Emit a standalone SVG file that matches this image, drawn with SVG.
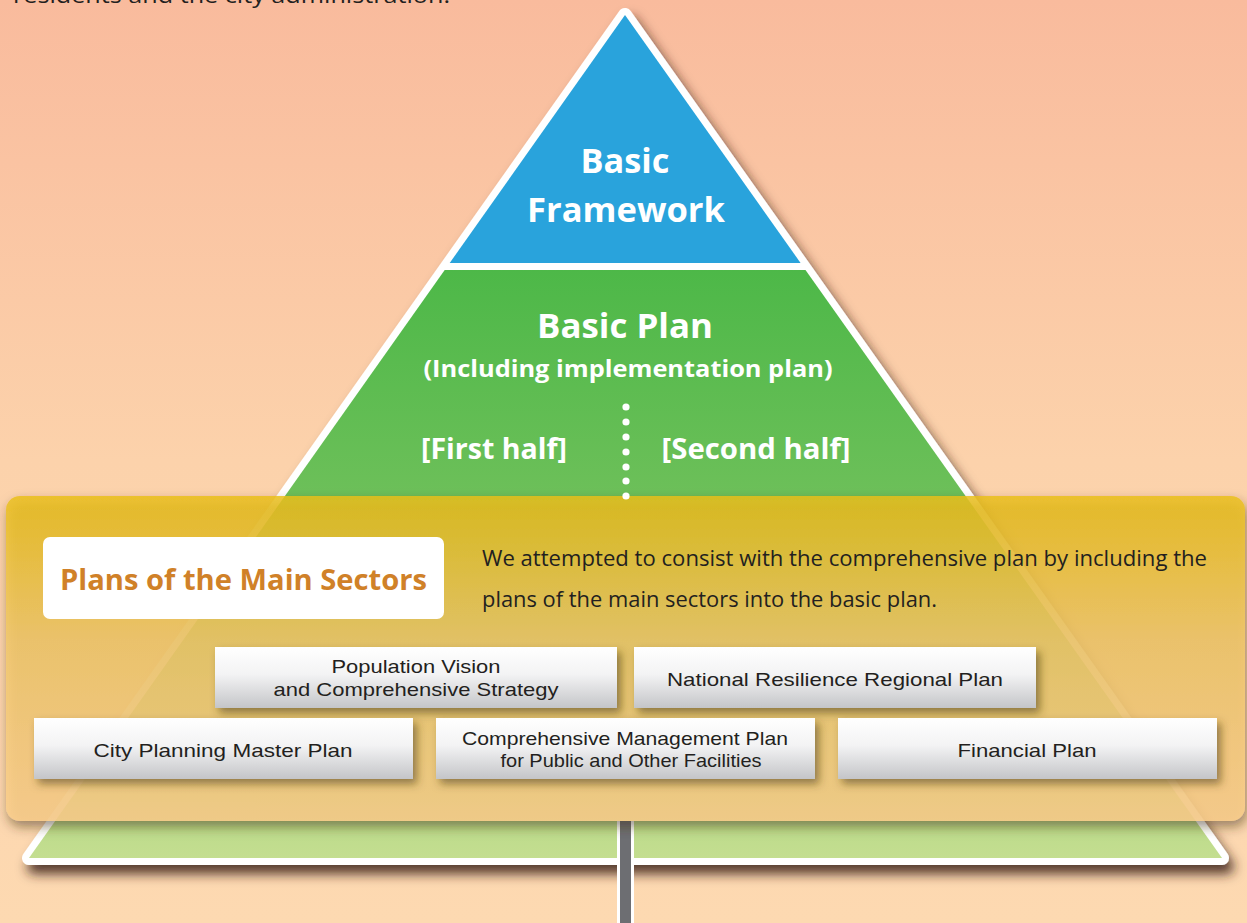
<svg xmlns="http://www.w3.org/2000/svg" width="1247" height="923" viewBox="0 0 1247 923">
<defs>
<linearGradient id="bg" x1="0" y1="0" x2="0" y2="1">
<stop offset="0" stop-color="#f9bb9d"/>
<stop offset="0.5" stop-color="#fcd2ab"/>
<stop offset="1" stop-color="#fdd9b1"/>
</linearGradient>
<linearGradient id="green" gradientUnits="userSpaceOnUse" x1="0" y1="270" x2="0" y2="858">
<stop offset="0" stop-color="#4db848"/>
<stop offset="0.4" stop-color="#6ec05a"/>
<stop offset="1" stop-color="#c4de90"/>
</linearGradient>
<linearGradient id="panel" x1="0" y1="0" x2="0" y2="1">
<stop offset="0" stop-color="#eabf1a"/>
<stop offset="0.45" stop-color="#f2c86a"/>
<stop offset="1" stop-color="#fdd08d"/>
</linearGradient>
<linearGradient id="box" x1="0" y1="0" x2="0" y2="1">
<stop offset="0" stop-color="#ffffff"/>
<stop offset="0.45" stop-color="#f3f3f4"/>
<stop offset="1" stop-color="#c4c5c8"/>
</linearGradient>
<filter id="triShadow" x="-10%" y="-10%" width="125%" height="125%">
<feDropShadow dx="5" dy="9" stdDeviation="6" flood-color="#3a2415" flood-opacity="0.85"/>
</filter>
<filter id="panelShadow" x="-5%" y="-10%" width="115%" height="130%">
<feDropShadow dx="2" dy="6" stdDeviation="6" flood-color="#3a2a10" flood-opacity="0.6"/>
</filter>
<filter id="boxShadow" x="-10%" y="-20%" width="130%" height="160%">
<feDropShadow dx="4" dy="5" stdDeviation="4" flood-color="#4a3a10" flood-opacity="0.55"/>
</filter>
</defs>
<style>
.w{fill:#ffffff;font-family:"Open Sans","Liberation Sans",sans-serif;font-weight:bold;text-anchor:middle}
.t{fill:#231f20;font-family:"Liberation Sans",Arial,sans-serif;font-size:19px;text-anchor:middle}
.p{fill:#231f20;font-family:"Open Sans","Liberation Sans",sans-serif;font-size:21px}
.box{fill:url(#box);filter:url(#boxShadow)}
</style>
<rect x="0" y="0" width="1247" height="923" fill="url(#bg)"/>
<text class="p" x="13" y="3" font-size="22" textLength="437" lengthAdjust="spacingAndGlyphs">residents and the city administration.</text>

<g id="pyramid">
<polygon points="625,15 29,858 1222,858" fill="#ffffff" stroke="#ffffff" stroke-width="14" stroke-linejoin="round" filter="url(#triShadow)"/>
<polygon points="625,15 449.7,263 800.6,263" fill="#29a3dc"/>
<polygon points="444.7,270 805.5,270 1222,858 29,858" fill="url(#green)"/>
</g>

<g id="pole">
<rect x="617" y="821" width="17" height="102" fill="#ffffff"/>
<rect x="620" y="821" width="11" height="102" fill="#6d6e72"/>
</g>

<g id="basic-framework">
<text class="w" x="625" y="173" font-size="34" textLength="89" lengthAdjust="spacingAndGlyphs">Basic</text>
<text class="w" x="626" y="222" font-size="34" textLength="198" lengthAdjust="spacingAndGlyphs">Framework</text>
</g>

<g id="basic-plan">
<text class="w" x="625" y="338" font-size="34" textLength="176" lengthAdjust="spacingAndGlyphs">Basic Plan</text>
<text class="w" x="628" y="377" font-size="24" textLength="409" lengthAdjust="spacingAndGlyphs">(Including implementation plan)</text>
<text class="w" x="494" y="459" font-size="28" textLength="146" lengthAdjust="spacingAndGlyphs">[First half]</text>
<text class="w" x="756" y="459" font-size="28" textLength="189" lengthAdjust="spacingAndGlyphs">[Second half]</text>
</g>

<g id="connectors">
<g fill="#ffffff">
<circle cx="626" cy="407" r="3.6"/>
<circle cx="626" cy="422" r="3.6"/>
<circle cx="626" cy="437" r="3.6"/>
<circle cx="626" cy="452" r="3.6"/>
<circle cx="626" cy="467" r="3.6"/>
<circle cx="626" cy="481" r="3.6"/>
</g>
</g>

<g id="sectors-panel">
<rect x="6" y="496" width="1239" height="325" rx="14" fill="url(#panel)" fill-opacity="0.83" filter="url(#panelShadow)"/>
<circle cx="626" cy="496" r="3.6" fill="#ffffff"/>
</g>

<g id="sectors-title">
<rect x="43" y="537" width="401" height="82" rx="7" fill="#ffffff"/>
<text x="60" y="590" font-family="'Open Sans','Liberation Sans',sans-serif" font-weight="bold" font-size="29" fill="#d08128" textLength="367" lengthAdjust="spacingAndGlyphs">Plans of the Main Sectors</text>
</g>

<g id="sectors-note">
<text class="p" x="482" y="566" textLength="725" lengthAdjust="spacingAndGlyphs">We attempted to consist with the comprehensive plan by including the</text>
<text class="p" x="482" y="607" textLength="455" lengthAdjust="spacingAndGlyphs">plans of the main sectors into the basic plan.</text>
</g>

<g id="population-vision">
<rect class="box" x="215" y="647" width="402" height="61"/>
<text class="t" x="416" y="673" textLength="169" lengthAdjust="spacingAndGlyphs">Population Vision</text>
<text class="t" x="416" y="696" textLength="285" lengthAdjust="spacingAndGlyphs">and Comprehensive Strategy</text>
</g>

<g id="national-resilience">
<rect class="box" x="634" y="647" width="402" height="61"/>
<text class="t" x="835" y="686" font-size="21" textLength="336" lengthAdjust="spacingAndGlyphs">National Resilience Regional Plan</text>
</g>

<g id="city-planning">
<rect class="box" x="34" y="718" width="379" height="61"/>
<text class="t" x="223" y="757" font-size="21" textLength="259" lengthAdjust="spacingAndGlyphs">City Planning Master Plan</text>
</g>

<g id="management-plan">
<rect class="box" x="436" y="718" width="379" height="61"/>
<text class="t" x="625" y="745" textLength="326" lengthAdjust="spacingAndGlyphs">Comprehensive Management Plan</text>
<text class="t" x="631" y="767" textLength="261" lengthAdjust="spacingAndGlyphs">for Public and Other Facilities</text>
</g>

<g id="financial-plan">
<rect class="box" x="838" y="718" width="379" height="61"/>
<text class="t" x="1027" y="757" font-size="21" textLength="139" lengthAdjust="spacingAndGlyphs">Financial Plan</text>
</g>
</svg>
